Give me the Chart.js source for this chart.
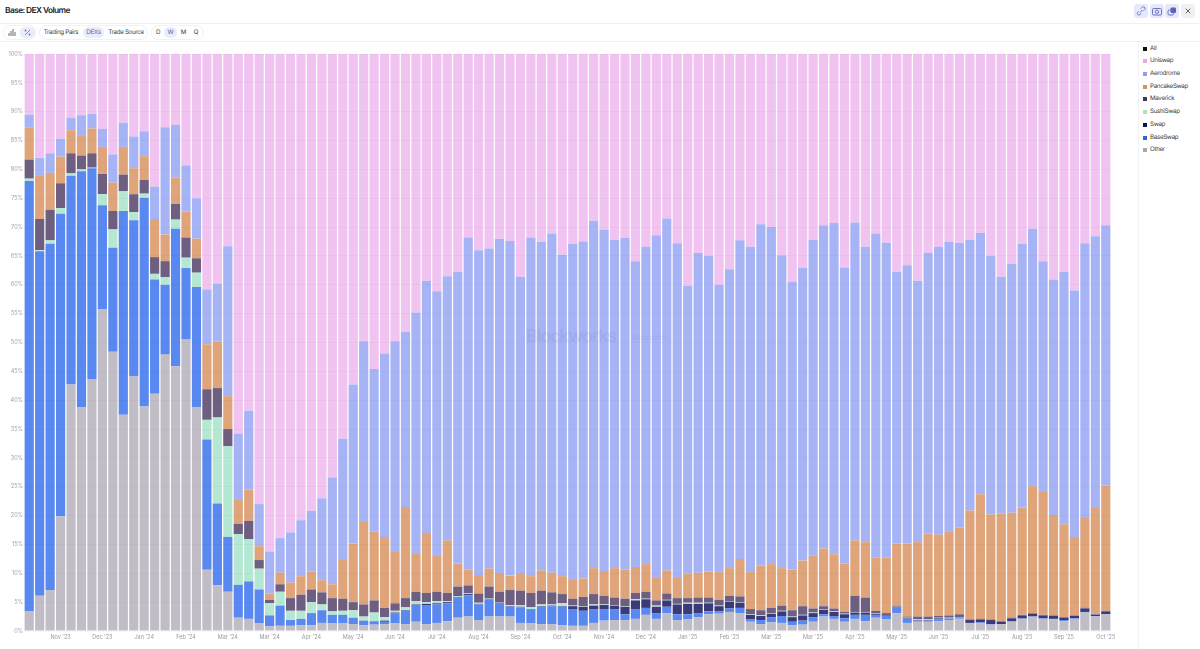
<!DOCTYPE html>
<html>
<head>
<meta charset="utf-8">
<title>Base: DEX Volume</title>
<script src="https://cdn.jsdelivr.net/npm/chart.js@4"></script>
<style>
  * { box-sizing: border-box; }
  body { margin: 0; width: 1200px; height: 649px; overflow: hidden; background: #fff; position: relative; font-family: Inter, "Noto Sans", sans-serif; color: #22242c; text-rendering: geometricPrecision; }
  .title { position: absolute; left: 5px; top: 5px; font-size: 8.4px; letter-spacing: -0.6px; line-height: 12px; font-weight: 600; color: #1c1e2b; white-space: nowrap; }
  .line { position: absolute; left: 0; width: 1200px; height: 1px; background: #f0f0f3; }
  .vline { position: absolute; left: 1138px; top: 42px; width: 1px; height: 607px; background: #f3f3f6; }
  .pill { position: absolute; top: 27px; height: 11px; line-height: 11px; font-size: 6.2px; letter-spacing: -0.3px; text-align: center; color: #3a3c46; border-radius: 6px; white-space: nowrap; }
  .on { background: #e9ecfb; color: #5a5fb0; }
  .group { position: absolute; top: 25px; height: 15px; border: 1px solid #f1f1f4; border-radius: 8px; }
  .btn { position: absolute; top: 4px; width: 14px; height: 14px; border-radius: 3px; background: #e6e9fb; }
  .btn svg, .pill svg { display: block; margin: auto; }
  #legend { position: absolute; left: 1143px; top: 42px; font-size: 6.2px; letter-spacing: -0.3px; color: #3a3c46; }
  .row { position: absolute; left: 0; white-space: nowrap; height: 10px; line-height: 10px; padding-left: 7px; }
  .row i { position: absolute; left: 0; top: 3px; width: 4px; height: 4px; }
  #wrap { position: absolute; left: 0; top: 42px; }
  .mark { position: absolute; left: 526px; top: 326px; font-size: 18px; letter-spacing: -1.3px; line-height: 22px; font-weight: 700; color: rgba(90,100,170,0.1); white-space: nowrap; }
  .mark2 { position: absolute; left: 632px; top: 332px; font-size: 7.5px; line-height: 11px; font-weight: 500; color: rgba(90,100,170,0.1); white-space: nowrap; }
</style>
</head>
<body>
<div class="title">Base: DEX Volume</div>
<div class="line" style="top:23px"></div>
<div class="line" style="top:41px"></div>
<div class="vline"></div>

<div class="group" style="left:3px;width:33px"></div>
<div class="pill" style="left:6px;width:12px"><svg width="9" height="11" viewBox="0 0 9 11"><path d="M1 9V6M3 9V4M5 9V2M7 9V5" stroke="#777" stroke-width="1.1"/></svg></div>
<div class="pill on" style="left:20px;width:15px"><svg width="9" height="11" viewBox="0 0 9 11"><path d="M2 8L7 3" stroke="#6a70c0" stroke-width=".8"/><circle cx="2.5" cy="3.5" r=".9" fill="#6a70c0"/><circle cx="6.5" cy="7.5" r=".9" fill="#6a70c0"/></svg></div>

<div class="group" style="left:39px;width:109px"></div>
<div class="pill" style="left:42px;width:38px">Trading Pairs</div>
<div class="pill on" style="left:83px;width:21px">DEXs</div>
<div class="pill" style="left:107px;width:38px">Trade Source</div>

<div class="group" style="left:151px;width:53px"></div>
<div class="pill" style="left:153px;width:10px">D</div>
<div class="pill on" style="left:164px;width:13px">W</div>
<div class="pill" style="left:178px;width:11px">M</div>
<div class="pill" style="left:191px;width:10px">Q</div>

<div class="btn" style="left:1134px"><svg width="14" height="14" viewBox="0 0 14 14"><path d="M6 8.5L8.5 6M4.5 7.5L3.5 8.5a1.6 1.6 0 0 0 2.2 2.2L7 9.5M7 4.5L8.2 3.3a1.6 1.6 0 0 1 2.4 2.3L9.5 6.7" fill="none" stroke="#5d63b5" stroke-width=".9"/></svg></div>
<div class="btn" style="left:1150px"><svg width="14" height="14" viewBox="0 0 14 14"><rect x="2.5" y="4.5" width="9" height="6.5" rx="1.2" fill="none" stroke="#5d63b5" stroke-width=".9"/><circle cx="7" cy="7.7" r="1.7" fill="none" stroke="#5d63b5" stroke-width=".9"/></svg></div>
<div class="btn" style="left:1165px"><svg width="14" height="14" viewBox="0 0 14 14"><rect x="5.5" y="3.5" width="5.5" height="5.5" rx="1.3" fill="#5d63b5"/><rect x="3" y="6" width="5.5" height="5" rx="1.3" fill="none" stroke="#5d63b5" stroke-width=".9"/></svg></div>
<div class="btn" style="left:1181px;background:#f1f1f3"><svg width="14" height="14" viewBox="0 0 14 14"><path d="M4.7 4.7L9.3 9.3M9.3 4.7L4.7 9.3" stroke="#555" stroke-width=".9"/></svg></div>

<div id="wrap"><canvas id="myChart" width="1138" height="607"></canvas></div>
<div class="mark">Blockworks</div>
<div class="mark2">Research</div>
<div id="legend"></div>

<script>
const tickLabels = ["Nov '23", "Dec '23", "Jan '24", "Feb '24", "Mar '24", "Mar '24", "Apr '24", "May '24", "Jun '24", "Jul '24",
  "Aug '24", "Sep '24", "Oct '24", "Nov '24", "Dec '24", "Jan '25", "Feb '25", "Mar '25", "Mar '25", "Apr '25",
  "May '25", "Jun '25", "Jul '25", "Aug '25", "Sep '25", "Oct '25"];
const yTicks = [0, 5, 10, 15, 20, 25, 30, 35, 40, 45, 50, 55, 60, 65, 70, 75, 80, 85, 90, 95, 100];

// share of weekly volume in %, one value per bar
const other = [3.4,6.1,7.1,19.9,42.7,38.8,43.6,55.7,48.4,37.5,44.2,38.9,41.1,47.9,45.9,50.5,38.8,10.6,7.9,6.8,2.3,2.1,1.3,.8,
  .9,.9,1,1,1.4,1.3,1.3,1.2,1,1.1,
  1.2,1.3,1.2,1.6,1.2,1.4,1.7,2.3,2.5,1.9,2.5,2.5,2.5,1.4,1.3,1.2,1.2,1,
  .9,.9,1.4,1.8,1.9,1.9,2.1,2.8,2.1,3.1,1.9,2,2.4,2.9,3,3.3,3.1,1.6,1.2,1.5,1.4,1,1.1,1.6,2.5,2.1,
  1.6,2.1,1.7,2.3,2,3.1,1.4,1.6,1.6,1.7,1.9,2,
  1.3,1.3,1.1,1.2,1.6,2.1,2.5,2.1,2,1.7,2.1,3.2,2.5,2.9];
const baseSwap = [74.6,59.7,60,52.4,36.2,40.9,36.6,18.1,18,35.3,27,36.2,19.8,12.1,23.8,12.4,20.8,22.6,14.2,9.5,5.7,6.5,5.9,1.9,
  3.5,1,1.1,2.1,2.2,1.5,1.5,1.1,.8,.6,
  .4,1.8,2.3,2.8,3.3,3.2,3.1,3.5,3.7,2.7,3,2.2,1.7,2.7,2.4,3,3.1,3.2,
  2.9,2.6,2.4,2,1.9,1,1.7,1.2,1,1.1,1,.9,.7,.5,.4,.6,.9,.4,.7,.9,1.2,.6,.7,.8,.4,.4,
  .6,.7,1.1,.5,.6,.9,.7,.2,.2,.3,.3,.2,
  .1,.2,.1,0,.1,.1,0,.1,.1,.2,.1,.1,.1,0];
const swap = [0,0,0,0,0,0,0,0,0,0,0,0,0,0,0,0,0,0,0,0,0,0,0,0,
  0,0,0,0,0,0,0,0,0,0,
  .2,.1,.1,.2,.2,.2,.2,.1,.2,.1,.1,.1,.1,.1,.1,.1,.1,.1,
  .5,.7,.6,.7,.6,1.3,1.5,1.5,1.1,1.1,1.7,1.8,1.6,1.4,.9,1.2,.9,.8,.7,.6,.8,.8,.9,.7,.8,.8,
  .7,.4,.4,.2,.1,.1,.1,.1,.1,.2,0,0,
  .5,.5,.7,.4,.5,.5,.5,.5,.5,.4,.4,.6,.2,.5];
const sushiSwap = [.4,.2,.6,1,.4,.3,.1,1.9,3.2,3.4,1.4,.7,1,1.3,1.6,1.8,2.5,3.4,14.9,15.7,8.8,7.3,3.6,2.1,
  2.4,1.6,1.4,1.9,1,.6,.7,1.3,.7,1.5,
  .6,.3,.5,.6,.3,.4,.2,.1,.1,.2,.1,.1,.2,.3,.3,.3,.2,.5,
  .1,.1,.2,.1,.1,.1,.2,.1,.2,.1,.1,.2,.2,.1,.1,.1,.1,.1,.1,.1,.1,.1,.1,.1,.1,.1,
  .1,.1,.1,.1,0,.1,.1,.1,.1,.1,.1,.1,
  0,0,0,0,0,0,0,0,0,0,0,0,0,0];
const maverick = [3.3,5.4,5.3,4.3,3.5,2.4,2.5,3.5,3.2,2.9,3.1,2.4,2.9,2.8,2.7,3.5,2.5,5.3,5.1,3,1.8,3.2,1.5,.6,
  1.3,2.2,2.8,2.2,2.1,2.3,2.1,1.4,2.1,2.1,
  1.6,1.3,1.6,1.6,1.6,1.6,1.4,1.7,1.4,1.6,2,1.9,2.6,2.5,2.5,2.4,2.1,1.6,
  1.2,1.6,1.8,1.5,1.3,1.3,1.1,1.2,.9,1.1,1,.8,.9,.9,1,.9,1,.9,.9,.9,.9,1.1,1.5,.7,.5,.5,
  .3,2.8,2.5,.4,.4,.2,.2,.5,.5,.3,.4,.6,
  .1,.1,.1,.1,.1,.1,.1,.1,.1,.1,.1,.1,.1,.1];
const pancakeSwap = [5.6,7.6,6.4,4.6,4,3.4,4.3,4.7,4.9,4.8,4.5,4.1,6.6,4.6,4.6,4.5,3.4,7.8,8.1,5.7,4.1,5.4,2.4,1.1,
  2,2.7,3.2,3.1,2.1,2.4,6.7,10.1,14.3,11.9,
  12.3,8.9,15.8,6.7,10.4,6.2,9.1,4,2.7,3.2,3.1,3.1,2.5,2.9,2.9,3.5,3.4,3.1,
  3.4,3.2,4.5,4.3,5.1,5,4.5,4.8,3.9,4,3.5,4.3,4.3,4.5,4.8,4.8,6.5,6.4,7.7,7.6,6.5,7,7.9,9.2,10,9.4,
  8.4,9.6,9.6,9.2,9.6,10.7,12.6,12.9,14.4,14.1,14.6,15,
  18.9,21.6,18.2,18.6,18.2,18.6,22,21.3,17.4,16.1,13.6,15.6,18.4,21.7];
const aerodrome = [2.2,3,3.4,3.1,2.1,3.6,2.5,3.1,4.9,4.2,5.5,4.3,5.6,18.6,9.1,8,7,9.5,10,26,11.5,13.7,7.3,7.3,
  6,8.7,9.7,10.5,14.2,18.5,21,27.6,31.3,28.2,
  31.8,36.5,30.3,41.7,43.7,45.9,45.8,50.5,57.6,56.3,55.5,58.1,58,51.5,58.7,56.9,58.8,55.7,
  58.1,58.4,60.2,59.2,56.9,57.5,53,55,59.4,61,58,49.8,55.4,54.7,49.8,51.8,55.2,56.4,59.2,58.4,54.2,49.9,50.7,54.7,56,57.4,
  51.3,55.1,51.2,56.2,54.6,47.1,48.3,45.3,48.6,49.9,50.1,49.4,
  46.9,45.3,44.8,41.1,43.1,45.7,44.6,40,40.8,43.7,42.7,47.6,47.1,45.1];
const uniswap = [10.5,18,17.2,14.7,11.1,10.6,10.4,13,17.4,11.9,14.3,13.4,23,12.7,12.3,19.3,25,40.8,39.8,33.3,65.8,61.8,78,86.2,
  83.9,82.9,80.8,79.2,77,73.4,66.7,57.3,49.8,54.6,
  51.9,49.8,48.2,44.8,39.3,41.1,38.5,37.8,31.8,34,33.7,32,32.4,38.6,31.8,32.6,31.1,34.8,
  32.9,32.5,28.9,30.4,32.2,31.9,35.9,33.4,31.4,28.5,32.8,40.2,34.5,35,40,37.3,32.3,33.4,29.5,30,34.9,39.5,37.1,32.2,29.7,29.3,
  37,29.2,33.4,31.1,32.7,37.8,36.6,39.3,34.5,33.4,32.6,32.7,
  32.2,31,35,38.6,36.5,32.9,30.3,35.9,39.1,37.8,41,32.8,31.6,29.7];

const legendNames = ["All", "Uniswap", "Aerodrome", "PancakeSwap", "Maverick", "SushiSwap", "Swap", "BaseSwap", "Other"];
const legendColors = ["#111111", "#e9a9e8", "#8f9fe6", "#cf9460", "#43365a", "#a8e2c6", "#0f1056", "#2f63d8", "#a8a6ae"];
const legendTops = [2, 14, 26.5, 39.5, 52, 65, 78, 90.5, 103];

// one label per week, only every 4th bar carries a tick
const weeks = other.map((v, i) => (i % 4 === 3 ? tickLabels[(i - 3) / 4] : ""));

const ctx = document.getElementById("myChart");

function ds(label, data, color) {
  return { label: label, data: data, backgroundColor: color, borderWidth: 0, barPercentage: 0.88, categoryPercentage: 1 };
}

new Chart(ctx, {
  type: "bar",
  data: {
    labels: weeks,
    datasets: [
      ds("Other", other, "#c0bdc6"),
      ds("BaseSwap", baseSwap, "#5888f0"),
      ds("Swap", swap, "#3a3a78"),
      ds("SushiSwap", sushiSwap, "#b4e8d2"),
      ds("Maverick", maverick, "#6e5f80"),
      ds("PancakeSwap", pancakeSwap, "#dfa47a"),
      ds("Aerodrome", aerodrome, "#a6b4f5"),
      ds("Uniswap", uniswap, "#f0c3f0"),
    ],
  },
  options: {
    responsive: false,
    animation: false,
    layout: { padding: { top: 12, right: 27, bottom: 0, left: 0 } },
    plugins: { legend: { display: false }, tooltip: { enabled: false } },
    scales: {
      x: {
        stacked: true,
        offset: true,
        grid: { display: false, drawTicks: false, tickLength: 0 },
        border: { display: false },
        ticks: { autoSkip: false, maxRotation: 0, minRotation: 0, padding: 3, color: "#9a9aa2", font: { size: 5.5, family: "Inter" } },
        afterFit: (scale) => { scale.height = 18; },
      },
      y: {
        stacked: true,
        min: 0,
        max: 100,
        afterBuildTicks: (scale) => { scale.ticks = yTicks.map((v) => ({ value: v })); },
        grid: { color: "rgba(60,60,90,0.035)", drawTicks: false, z: 1 },
        border: { display: false },
        ticks: { padding: 1, color: "#a2a2aa", font: { size: 5.5, family: "Inter" }, callback: (v) => v + "%" },
        afterFit: (scale) => { scale.width = 24; },
      },
    },
  },
});

const legend = document.getElementById("legend");
legendNames.forEach((name, i) => {
  const row = document.createElement("div");
  row.className = "row";
  row.style.top = legendTops[i] + "px";
  row.innerHTML = `<i style="background:${legendColors[i]}"></i>${name}`;
  legend.appendChild(row);
});
</script>
</body>
</html>
